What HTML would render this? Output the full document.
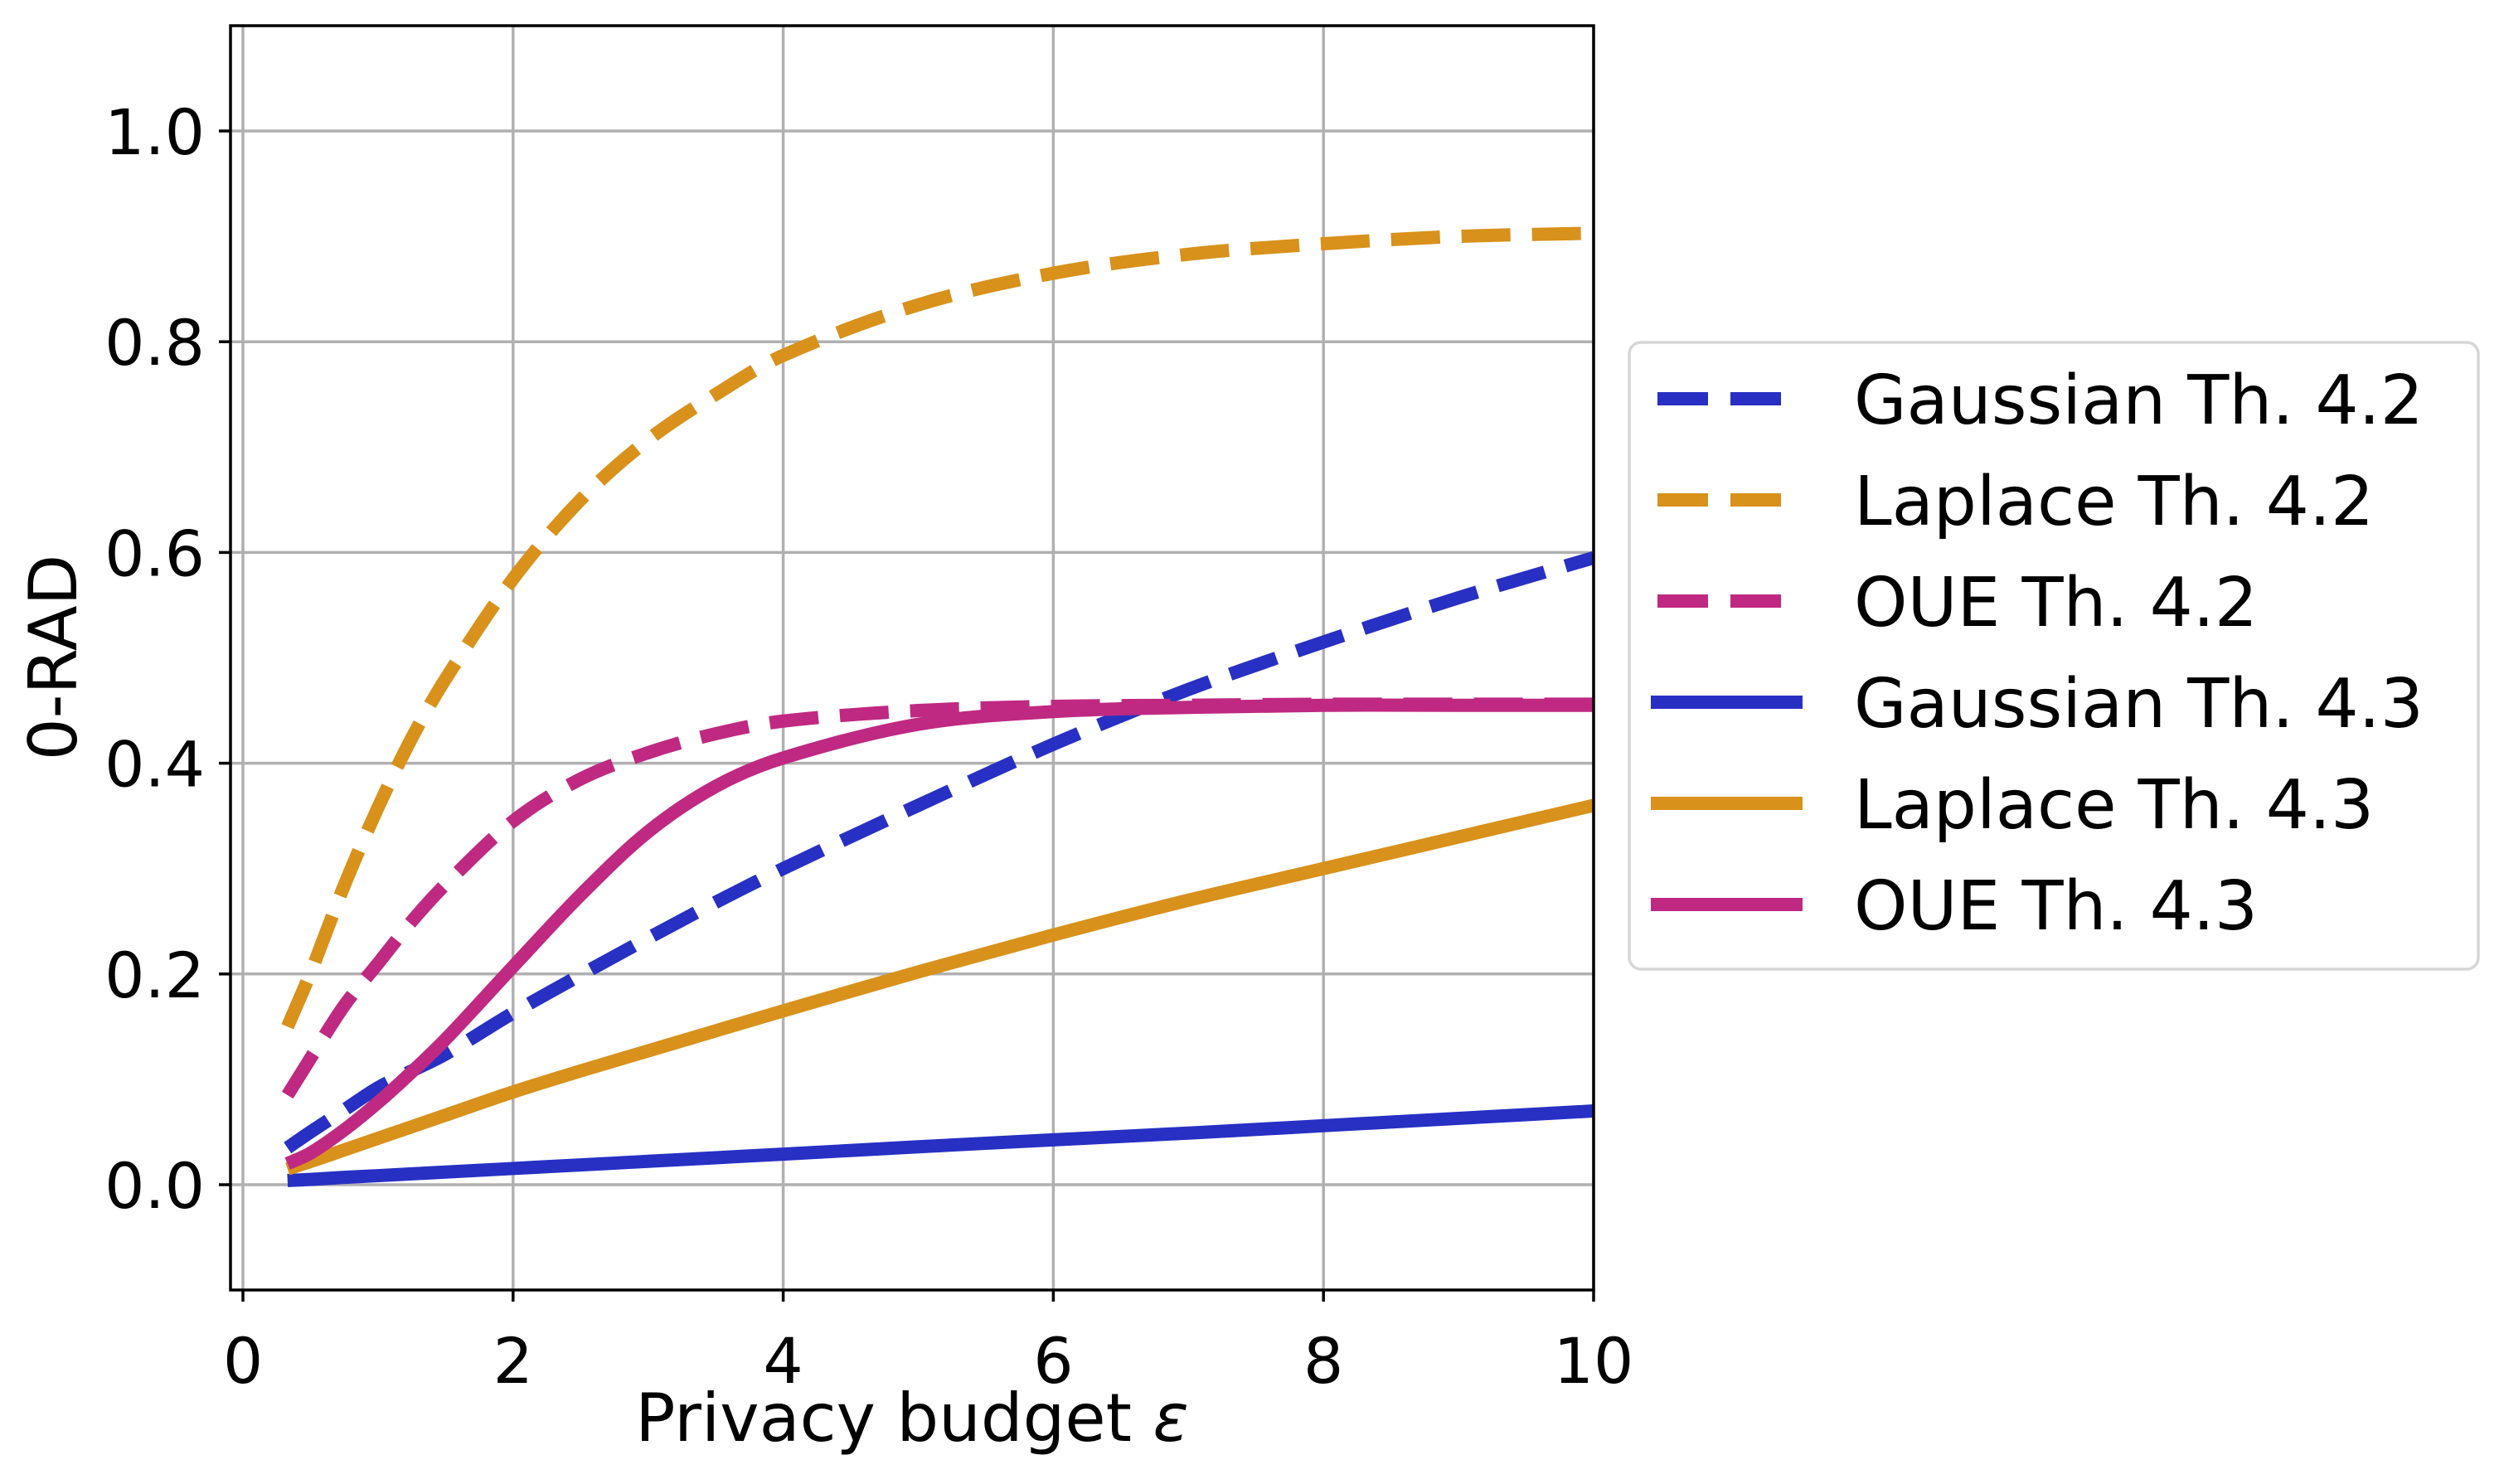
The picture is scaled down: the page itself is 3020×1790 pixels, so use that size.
<!DOCTYPE html>
<html><head><meta charset="utf-8"><style>
html,body{margin:0;padding:0;background:#fff;}
svg{display:block;font-family:"DejaVu Sans","Liberation Sans",sans-serif;}
</style></head><body>
<svg id="chart" width="3020" height="1790" viewBox="0 0 3020 1790" xmlns="http://www.w3.org/2000/svg">
<rect x="0" y="0" width="3020" height="1790" fill="#fff"/>
<g id="grid"></g>
<g id="series"></g>
<g id="axes"></g>
<g id="legend"></g>
</svg>
<script>
const xs = [0.33,0.5,0.75,1,1.25,1.5,2,2.5,3,3.5,4,5,6,7,8,9,10];
const gauss42 = [0.035,0.05,0.071,0.092,0.108,0.124,0.163,0.199,0.234,0.268,0.30,0.36,0.418,0.47,0.515,0.557,0.595];
const laplace42 = [0.15,0.201,0.284,0.358,0.424,0.48,0.575,0.65,0.707,0.75,0.787,0.835,0.865,0.883,0.893,0.9,0.903];
const oue42 = [0.085,0.12,0.17,0.21,0.25,0.285,0.345,0.385,0.41,0.428,0.44,0.45,0.454,0.455,0.456,0.456,0.456];
const gauss43 = [0.004,0.005,0.007,0.0086,0.0103,0.012,0.0154,0.0188,0.0222,0.0256,0.029,0.036,0.0426,0.049,0.056,0.063,0.07];
const laplace43 = [0.015,0.022,0.033,0.044,0.055,0.066,0.088,0.108,0.127,0.146,0.165,0.202,0.237,0.27,0.3,0.33,0.36];
const oue43 = [0.02,0.03,0.052,0.078,0.107,0.138,0.207,0.275,0.335,0.378,0.405,0.437,0.449,0.453,0.455,0.455,0.455];
const xTicks = [0,2,4,6,8,10];
const yTicks = [0.0,0.2,0.4,0.6,0.8,1.0];
const seriesNames = ["Gaussian Th. 4.2","Laplace Th. 4.2","OUE Th. 4.2","Gaussian Th. 4.3","Laplace Th. 4.3","OUE Th. 4.3"];

const NS="http://www.w3.org/2000/svg";
const L=278,R=1922,T=31,B=1556;
const x0px=293, xppu=(1922-293)/10;
const y0px=1429, yppu=1271;
const X=v=>x0px+v*xppu, Y=v=>y0px-v*yppu;
function mk(tag,attrs,parent){const e=document.createElementNS(NS,tag);for(const k in attrs)e.setAttribute(k,attrs[k]);parent.appendChild(e);return e;}
const grid=document.getElementById('grid'),axes=document.getElementById('axes'),ser=document.getElementById('series'),leg=document.getElementById('legend');
const svg=document.getElementById('chart');
const defs=mk('defs',{},svg);const cp=mk('clipPath',{id:'clip'},defs);mk('rect',{x:L,y:T,width:R-L,height:B-T},cp);
xTicks.forEach(t=>{
  const g=mk('line',{x1:X(t),x2:X(t),y1:T,y2:B,stroke:'#b0b0b0','stroke-width':3.5},grid);
  
  
  const tk=mk('line',{x1:X(t),x2:X(t),y1:B,y2:B+14,stroke:'#000','stroke-width':3.5},axes);
  
  
  const tx=mk('text',{x:X(t),y:1668,'font-size':76,'text-anchor':'middle',fill:'#000'},axes);
  tx.textContent=String(t);
  
  
});
yTicks.forEach(t=>{
  const g=mk('line',{x1:L,x2:R,y1:Y(t),y2:Y(t),stroke:'#b0b0b0','stroke-width':3.5},grid);
  
  
  const tk=mk('line',{x1:L-14,x2:L,y1:Y(t),y2:Y(t),stroke:'#000','stroke-width':3.5},axes);
  
  
  const tx=mk('text',{x:247,y:Y(t)+28,'font-size':76,'text-anchor':'end',fill:'#000'},axes);
  tx.textContent=t.toFixed(1);
  
  
});
const frame=mk('rect',{x:L,y:T,width:R-L,height:B-T,fill:'none',stroke:'#000','stroke-width':3.5},axes);


const xl=mk('text',{x:1100,y:1738,'font-size':80,'text-anchor':'middle',fill:'#000'},axes);
xl.innerHTML='Privacy budget <tspan font-style="italic">ε</tspan>';


const yl=mk('text',{x:0,y:0,'font-size':80,'text-anchor':'middle',fill:'#000',transform:'translate(92,793) rotate(-90)'},axes);
yl.textContent='0-RAD';



function pathFor(vals){
  const n=xs.length;
  const px=xs.map(X), py=vals.map(Y);
  const m=[];
  for(let i=0;i<n;i++){
    const a=Math.max(0,i-1), b=Math.min(n-1,i+1);
    m.push((py[b]-py[a])/(px[b]-px[a]));
  }
  let d='M'+px[0]+','+py[0];
  for(let i=0;i<n-1;i++){
    const dx=(px[i+1]-px[i])/3;
    d+=' C'+(px[i]+dx)+','+(py[i]+m[i]*dx)+' '+(px[i+1]-dx)+','+(py[i+1]-m[i+1]*dx)+' '+px[i+1]+','+py[i+1];
  }
  return d;
}
const BLUE='#2730c3',ORANGE='#d8911b',MAG='#bf2982';
const defsSeries=[[gauss42,BLUE,true],[laplace42,ORANGE,true],[oue42,MAG,true],[gauss43,BLUE,false],[laplace43,ORANGE,false],[oue43,MAG,false]];
const slugs=['gaussian-th42-line','laplace-th42-line','oue-th42-line','gaussian-th43-line','laplace-th43-line','oue-th43-line'];
defsSeries.forEach((s,i)=>{
  const a={d:pathFor(s[0]),fill:'none',stroke:s[1],'stroke-width':16,'clip-path':'url(#clip)'};
  if(s[2])a['stroke-dasharray']='59 26';
  const p=mk('path',a,ser);
  
  
});
const box=mk('rect',{x:1965,y:413,width:1024,height:756,rx:14,fill:'#fff',stroke:'#d6d6d6','stroke-width':3.5},leg);


const rowsY=[481,603,725,847,969,1091];
defsSeries.forEach((s,i)=>{
  const a={x1:1991,x2:2174,y1:rowsY[i],y2:rowsY[i],stroke:s[1],'stroke-width':16};
  if(s[2]){a['stroke-dasharray']='61 27';a.x1=1999;a.x2=2149;}
  const l=mk('line',a,leg);
  
  
  const t=mk('text',{x:2236,y:rowsY[i]+30,'font-size':82,fill:'#000'},leg);
  t.textContent=seriesNames[i];
  
  
});
</script>
</body></html>
